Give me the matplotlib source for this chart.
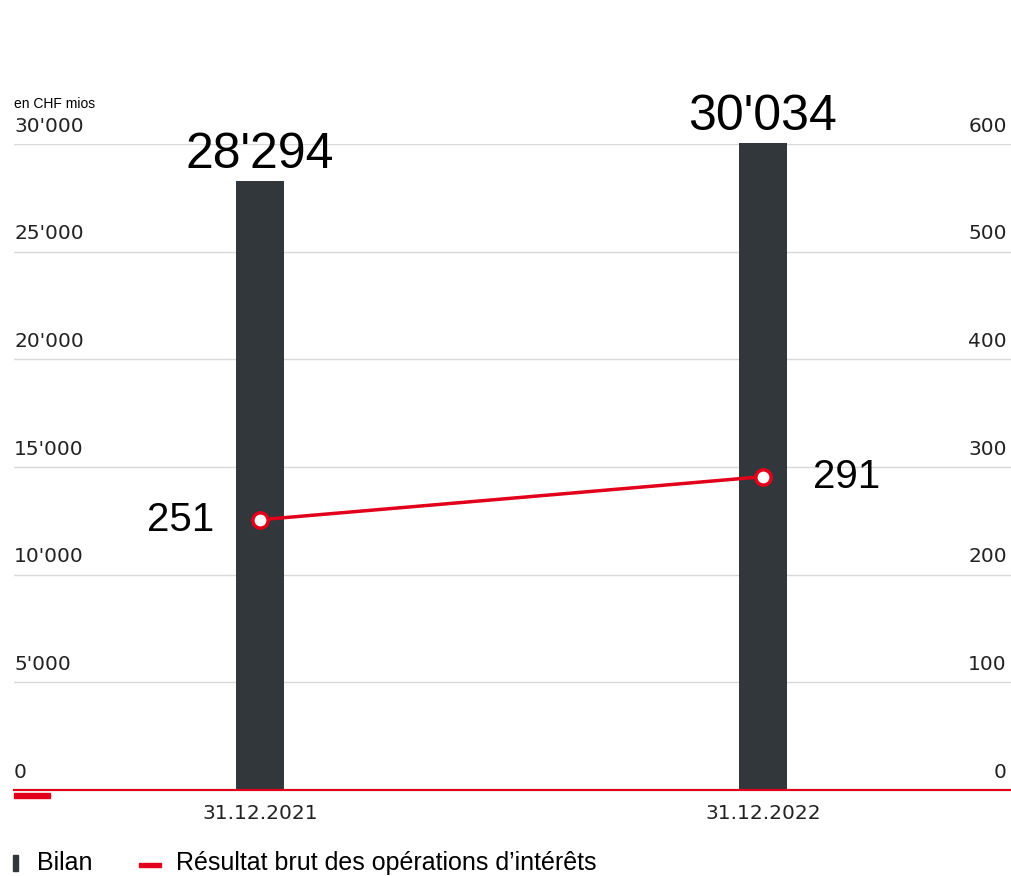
import matplotlib
matplotlib.use("Agg")
import matplotlib.pyplot as plt
from matplotlib.lines import Line2D
from matplotlib.patches import Rectangle

# data
dates = ["31.12.2021", "31.12.2022"]
bilan = [28294, 30034]
bilan_labels = ["28'294", "30'034"]
resultat = [251, 291]
left_ticks = [0, 5000, 10000, 15000, 20000, 25000, 30000]
left_ticklabels = ["0", "5'000", "10'000", "15'000", "20'000", "25'000", "30'000"]
right_ticks = [0, 100, 200, 300, 400, 500, 600]

RED = "#e2001a"
DARK = "#31373b"
GRID = "#d9d9d9"
narrow = ["Liberation Sans Narrow", "DejaVu Sans"]
plt.rcParams["font.family"] = ["Liberation Sans", "DejaVu Sans"]

W, H = 1011, 876
fig = plt.figure(figsize=(W / 100, H / 100), dpi=100)
ax = fig.add_axes([14 / W, (H - 790) / H, (1011 - 14) / W, (790 - 144) / H])
ax2 = ax.twinx()

x = list(range(len(dates)))
ax.bar(x, bilan, width=0.096, color=DARK, zorder=2, clip_on=False)
ax.set_xlim(-0.489, 1.493)
ax.set_ylim(0, 30000)
ax2.set_ylim(0, 600)

# gridlines + tick labels drawn as text above lines
for t, lab in zip(left_ticks, left_ticklabels):
    if t > 0:
        ax.axhline(t, color=GRID, lw=1, zorder=0)
    ax.annotate(lab, (0, t), xycoords=("axes fraction", "data"), xytext=(0, 6),
                textcoords="offset points", ha="left", va="bottom",
                fontsize=14.5, family=narrow, color="#222222")
for t in right_ticks:
    ax2.annotate(str(t), (1, t), xycoords=("axes fraction", "data"), xytext=(-3, 6),
                 textcoords="offset points", ha="right", va="bottom",
                 fontsize=14.5, family=narrow, color="#222222")

ax.set_yticks([])
ax2.set_yticks([])
ax.set_xticks(x)
ax.set_xticklabels(dates, fontsize=14.5, family=narrow, color="#222222")
ax.tick_params(axis="x", length=0, pad=10)
for a in (ax, ax2):
    for s in ["top", "left", "right"]:
        a.spines[s].set_visible(False)
    a.spines["bottom"].set_color(RED)
    a.spines["bottom"].set_linewidth(1.5)

# value labels on bars
for xi, v, lab in zip(x, bilan, bilan_labels):
    ax.annotate(lab, (xi, v), xytext=(0, 2), textcoords="offset points",
                ha="center", va="bottom", fontsize=36, annotation_clip=False)

# line series
ax2.plot(x, resultat, color=RED, lw=2.5, marker="o", ms=11, mfc="white",
         mec=RED, mew=2.5, zorder=3)
ax2.annotate(str(resultat[0]), (x[0], resultat[0]), xytext=(-33, 0),
             textcoords="offset points", ha="right", va="center", fontsize=29)
ax2.annotate(str(resultat[1]), (x[1], resultat[1]), xytext=(36, 0),
             textcoords="offset points", ha="left", va="center", fontsize=29)

fig.text(14 / W, 1 - 104 / H, "en CHF mios", fontsize=10, va="center", ha="left")

# small red marker on the baseline
fig.add_artist(Rectangle((14 / W, 1 - 798 / H), 36 / W, 5 / H, color=RED,
                         transform=fig.transFigure))

# legend
fig.add_artist(Rectangle((13 / W, 1 - 871 / H), 5 / W, 16 / H, color=DARK,
                         transform=fig.transFigure))
fig.text(37 / W, 1 - 863 / H, "Bilan", fontsize=18, va="center", ha="left")
fig.add_artist(Rectangle((139 / W, 1 - 867 / H), 22 / W, 4 / H, color=RED,
                         transform=fig.transFigure))
fig.text(176 / W, 1 - 863 / H, "Résultat brut des opérations d’intérêts", fontsize=18,
         va="center", ha="left")

fig.savefig("out.png", dpi=100)
